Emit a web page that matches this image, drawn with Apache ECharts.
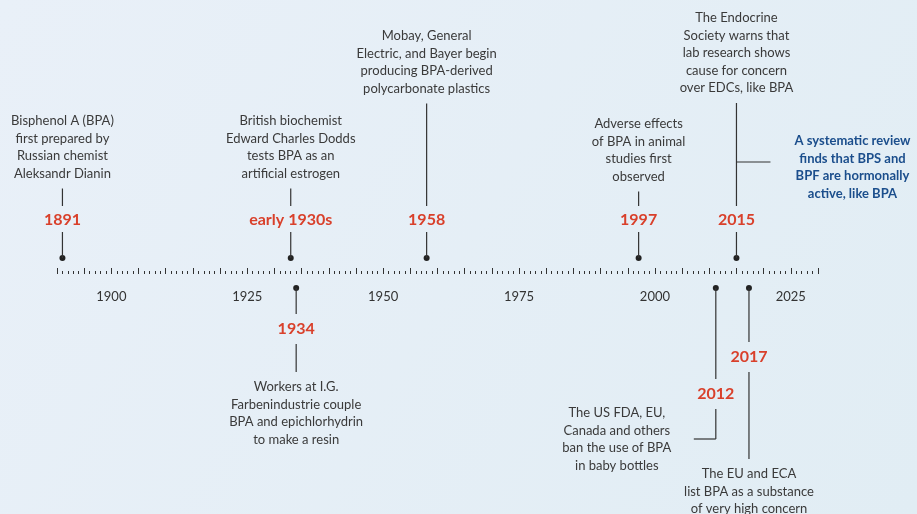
<!DOCTYPE html>
<html>
<head>
<meta charset="utf-8">
<script src="https://cdn.jsdelivr.net/npm/echarts@6/dist/echarts.min.js"></script>
<style>
  html, body { margin: 0; padding: 0; }
  #chart { width: 917px; height: 514px; }
</style>
</head>
<body>
<div id="chart"></div>
<script>
// timeline data
var eventYears = [1891, 1933, 1934, 1958, 1997, 2011.2, 2015, 2017.3];
var eventLabels = ['1891', 'early 1930s', '1934', '1958', '1997', '2012', '2015', '2017'];
var eventTexts = [
  'Bisphenol A (BPA)\nfirst prepared by\nRussian chemist\nAleksandr Dianin',
  'British biochemist\nEdward Charles Dodds\ntests BPA as an\nartificial estrogen',
  'Workers at I.G.\nFarbenindustrie couple\nBPA and epichlorhydrin\nto make a resin',
  'Mobay, General\nElectric, and Bayer begin\nproducing BPA-derived\npolycarbonate plastics',
  'Adverse effects\nof BPA in animal\nstudies first\nobserved',
  'The US FDA, EU,\nCanada and others\nban the use of BPA\nin baby bottles',
  'The Endocrine\nSociety warns that\nlab research shows\ncause for concern\nover EDCs, like BPA',
  'The EU and ECA\nlist BPA as a substance\nof very high concern'
];
var noteText = 'A systematic review\nfinds that BPS and\nBPF are hormonally\nactive, like BPA';
var tickLabels = [1900, 1925, 1950, 1975, 2000, 2025];

// layout, offsets in px from the axis line
var layouts = [
  { up: true, labelDy: -54, textDy: -153 },
  { up: true, labelDy: -54, textDy: -153 },
  { up: false, labelDy: 55, textDy: 113 },
  { up: true, labelDy: -54, textDy: -238 },
  { up: true, labelDy: -54, textDy: -150 },
  { up: false, labelDy: 120, textDy: 139, textDx: -99, elbowDy: 165, elbowDx: -22 },
  { up: true, labelDy: -54, textDy: -256, branchDy: -112, branchDx: 34, noteDx: 116, noteDy: -133 },
  { up: false, labelDy: 83, textDy: 200 }
];

var LH = 17.5;
var FONT = 'Lato, "Open Sans", sans-serif';
var lineStyle = { stroke: '#333', lineWidth: 1.2 };

function seg(x1, y1, x2, y2) {
  return { type: 'line', shape: { x1: x1, y1: y1, x2: x2, y2: y2 }, style: lineStyle };
}
function txt(x, yTop, s, opts) {
  return {
    type: 'text',
    x: x, y: yTop,
    style: Object.assign({
      text: s, align: 'center', verticalAlign: 'top',
      font: '13px ' + FONT, lineHeight: LH, fill: '#3a3a3a'
    }, opts || {})
  };
}

function renderItem(params, api) {
  var i = params.dataIndex;
  var p = api.coord([api.value(0), 0]);
  var x = p[0], y0 = p[1];
  var L = layouts[i];
  var n = eventTexts[i].split('\n').length;
  var ch = [];
  var dotY = L.up ? y0 - 16 : y0 + 14;
  ch.push({ type: 'circle', shape: { cx: x, cy: dotY, r: 3 }, style: { fill: '#222' } });
  var ly = y0 + L.labelDy;
  ch.push({
    type: 'text', x: x, y: ly,
    style: {
      text: eventLabels[i], align: 'center', verticalAlign: 'middle',
      font: 'bold 16px ' + FONT, fill: '#d9402b'
    }
  });
  var tx = x + (L.textDx || 0);
  var ty = y0 + L.textDy;
  if (L.up) {
    ch.push(seg(x, dotY, x, ly + 12));
    ch.push(seg(x, ly - 14, x, ty + (n - 1) * LH + 15));
    if (L.branchDy) {
      ch.push(seg(x, y0 + L.branchDy, x + L.branchDx, y0 + L.branchDy));
      ch.push(txt(x + L.noteDx, y0 + L.noteDy - LH / 2, noteText, {
        font: 'bold 13px ' + FONT, fill: '#1b4e8c'
      }));
    }
  } else {
    ch.push(seg(x, dotY, x, ly - 15));
    if (L.elbowDy) {
      ch.push(seg(x, ly + 15, x, y0 + L.elbowDy));
      ch.push(seg(x, y0 + L.elbowDy, x + L.elbowDx, y0 + L.elbowDy));
    } else {
      ch.push(seg(x, ly + 15, x, ty - 15));
    }
  }
  ch.push(txt(tx, ty - LH / 2, eventTexts[i]));
  return { type: 'group', children: ch };
}

var chart = echarts.init(document.getElementById('chart'));
chart.setOption({
  backgroundColor: new echarts.graphic.LinearGradient(0, 0, 1, 1, [
    { offset: 0, color: '#e9f0f8' },
    { offset: 1, color: '#e1edf4' }
  ]),
  animation: false,
  grid: { left: 57, right: 99, top: 0, bottom: 240 },
  xAxis: {
    type: 'value',
    min: 1890,
    max: 2030,
    interval: 5,
    splitLine: { show: false },
    axisLine: { show: false },
    axisTick: { show: true, inside: true, length: 6, lineStyle: { color: '#333', width: 1 } },
    minorTick: { show: true, splitNumber: 5, length: 3, lineStyle: { color: '#333', width: 1 } },
    minorSplitLine: { show: false },
    axisLabel: {
      margin: 16,
      fontFamily: FONT,
      fontSize: 13,
      color: '#333',
      formatter: function (v) { return tickLabels.indexOf(v) >= 0 ? String(v) : ''; }
    }
  },
  yAxis: { type: 'value', min: 0, max: 1, show: false },
  series: [{
    type: 'custom',
    clip: false,
    renderItem: renderItem,
    data: eventYears.map(function (y) { return [y]; })
  }]
});
</script>
</body>
</html>
